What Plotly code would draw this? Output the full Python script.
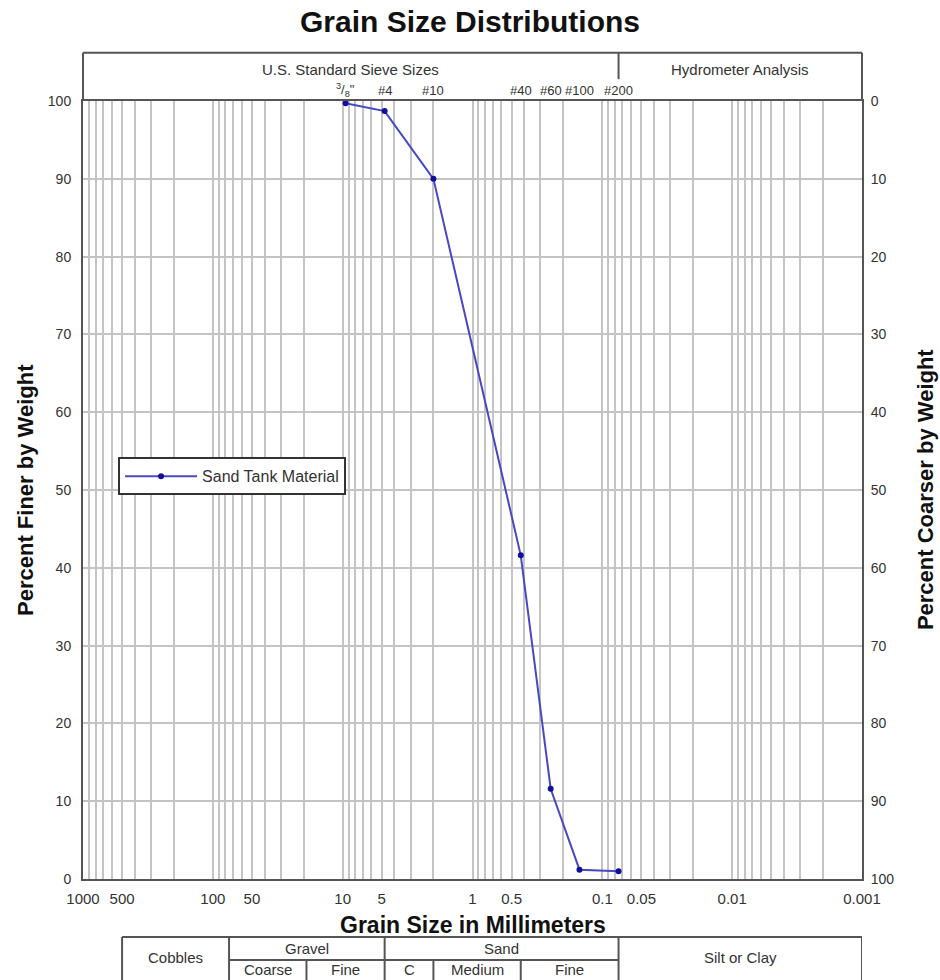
import numpy as np
import plotly.graph_objects as go

# Sieve analysis results for the sand tank material
sieve_labels = ['<sup>3</sup>/<sub>8</sub>"', "#4", "#10", "#40", "#60", "#100", "#200"]
sieve_mm = [9.5, 4.75, 2.0, 0.425, 0.25, 0.15, 0.075]
percent_finer = [99.7, 98.7, 90.0, 41.6, 11.6, 1.2, 1.0]
series_name = "Sand Tank Material"

# Axis ticks
x_tick_vals = [1000, 500, 100, 50, 10, 5, 1, 0.5, 0.1, 0.05, 0.01, 0.001]
x_tick_text = ["1000", "500", "100", "50", "10", "5", "1", "0.5", "0.1", "0.05", "0.01", "0.001"]
y_tick_vals = list(range(0, 101, 10))
y2_tick_vals = list(range(0, 101, 10))

# Soil classification boundaries (mm)
table_left_mm = 500
cobble_gravel_mm = 75
coarse_fine_gravel_mm = 19
gravel_sand_mm = 4.75
coarse_medium_sand_mm = 2.0
medium_fine_sand_mm = 0.425
sand_silt_mm = 0.075
table_right_mm = 0.001

FONT = "Liberation Sans"
TEXT = "#333333"
DARK = "#111111"
FRAME = "#555555"
GRID = "#c4c4c4"

x_range = [3, -3]  # log10, coarse on the left

# minor grid at 2..9 within every decade
minor_vals = [m * 10.0 ** e for e in range(-3, 3) for m in range(1, 10)]

fig = go.Figure()

fig.add_trace(go.Scatter(
    x=sieve_mm, y=percent_finer, name=series_name,
    mode="lines+markers",
    line=dict(color="#4848c4", width=2),
    marker=dict(color="#10109a", size=6, symbol="circle"),
))

# companion trace for the right (percent coarser) axis
fig.add_trace(go.Scatter(
    x=[sieve_mm[0]], y=[100 - percent_finer[0]], yaxis="y2",
    mode="markers", marker=dict(opacity=0), showlegend=False, hoverinfo="skip",
))


def lg(v):
    return float(np.log10(v))


def to_paper_x(mm):
    return (x_range[0] - lg(mm)) / (x_range[0] - x_range[1])


line_style = dict(color=FRAME, width=2)
shapes = []

# header box above the plot: sieve sizes / hydrometer analysis
head_top = 1.062
head_div_bottom = 1.028
shapes.append(dict(type="line", xref="paper", yref="paper", x0=0, x1=0, y0=1, y1=head_top, line=line_style))
shapes.append(dict(type="line", xref="paper", yref="paper", x0=1, x1=1, y0=1, y1=head_top, line=line_style))
shapes.append(dict(type="line", xref="paper", yref="paper", x0=0, x1=1, y0=head_top, y1=head_top, line=line_style))
shapes.append(dict(type="line", xref="x", yref="paper", x0=sand_silt_mm, x1=sand_silt_mm,
                   y0=head_div_bottom, y1=head_top, line=line_style))

# classification table below the axis title
tab_top = -0.0746
tab_mid = -0.104
tab_bot = -0.14
for y in (tab_top, tab_bot):
    shapes.append(dict(type="line", xref="x", yref="paper", x0=table_left_mm, x1=table_right_mm,
                       y0=y, y1=y, line=line_style))
shapes.append(dict(type="line", xref="x", yref="paper", x0=cobble_gravel_mm, x1=sand_silt_mm,
                   y0=tab_mid, y1=tab_mid, line=line_style))
for xv in (table_left_mm, cobble_gravel_mm, gravel_sand_mm, sand_silt_mm, table_right_mm):
    shapes.append(dict(type="line", xref="x", yref="paper", x0=xv, x1=xv, y0=tab_bot, y1=tab_top,
                       line=line_style))
for xv in (coarse_fine_gravel_mm, coarse_medium_sand_mm, medium_fine_sand_mm):
    shapes.append(dict(type="line", xref="x", yref="paper", x0=xv, x1=xv, y0=tab_bot, y1=tab_mid,
                       line=line_style))

annotations = []


def note(text, x, y, size, xref="paper", color=TEXT, angle=0):
    annotations.append(dict(text=text, xref=xref, yref="paper", x=x, y=y,
                            xanchor="center", yanchor="middle", textangle=angle,
                            showarrow=False, font=dict(family=FONT, size=size, color=color)))


div_p = to_paper_x(sand_silt_mm)
note("U.S. Standard Sieve Sizes", div_p / 2, 1.04, 15)
note("Hydrometer Analysis", (div_p + 1) / 2, 1.04, 15)
for lab, mm in zip(sieve_labels, sieve_mm):
    note(lab, lg(mm), 1.0135, 13, xref="x")


def mid(a, b):
    return (lg(a) + lg(b)) / 2


row_top = -0.0887
row_bot = -0.1165
row_all = -0.101
table_cells = [
    ("Cobbles", table_left_mm, cobble_gravel_mm, row_all),
    ("Gravel", cobble_gravel_mm, gravel_sand_mm, row_top),
    ("Sand", gravel_sand_mm, sand_silt_mm, row_top),
    ("Silt or Clay", sand_silt_mm, table_right_mm, row_all),
    ("Coarse", cobble_gravel_mm, coarse_fine_gravel_mm, row_bot),
    ("Fine", coarse_fine_gravel_mm, gravel_sand_mm, row_bot),
    ("C", gravel_sand_mm, coarse_medium_sand_mm, row_bot),
    ("Medium", coarse_medium_sand_mm, medium_fine_sand_mm, row_bot),
    ("Fine", medium_fine_sand_mm, sand_silt_mm, row_bot),
]
for text, a, b, y in table_cells:
    note(text, mid(a, b), y, 15, xref="x")

note("<b>Grain Size in Millimeters</b>", 0.5, -0.0595, 23, color=DARK)
note("<b>Percent Finer by Weight</b>", -0.0745, 0.5, 22, color=DARK, angle=-90)
note("<b>Percent Coarser by Weight</b>", 1.081, 0.5, 22, color=DARK, angle=-90)

fig.update_layout(
    width=940, height=980,
    margin=dict(l=83, r=78, t=101, b=101),
    paper_bgcolor="white", plot_bgcolor="white",
    title=dict(text="<b>Grain Size Distributions</b>", x=0.5, xanchor="center",
               y=1 - 21 / 980, yanchor="middle", yref="container",
               font=dict(family=FONT, size=30, color=DARK)),
    xaxis=dict(
        type="log", range=x_range,
        tickvals=x_tick_vals, ticktext=x_tick_text,
        tickfont=dict(family=FONT, size=15, color=TEXT),
        showgrid=True, gridcolor=GRID, gridwidth=1.5,
        minor=dict(tickvals=minor_vals, showgrid=True, gridcolor=GRID, gridwidth=1.5, ticks=""),
        showline=True, linecolor=FRAME, linewidth=2, mirror=True,
        ticks="", zeroline=False, ticklabelstandoff=5,
    ),
    yaxis=dict(
        range=[0, 100], tickvals=y_tick_vals,
        tickfont=dict(family=FONT, size=14, color=TEXT),
        showgrid=True, gridcolor=GRID, gridwidth=1.5,
        showline=True, linecolor=FRAME, linewidth=2,
        ticks="", zeroline=False, ticklabelstandoff=7,
    ),
    yaxis2=dict(
        overlaying="y", side="right", range=[100, 0], tickvals=y2_tick_vals,
        tickfont=dict(family=FONT, size=14, color=TEXT),
        showgrid=False, showline=True, linecolor=FRAME, linewidth=2,
        ticks="", zeroline=False, ticklabelstandoff=4,
    ),
    legend=dict(
        x=0.045, y=0.542, xanchor="left", yanchor="top",
        bgcolor="white", bordercolor="#333333", borderwidth=2,
        font=dict(family=FONT, size=16, color=TEXT), itemwidth=72,
    ),
    shapes=shapes,
    annotations=annotations,
    showlegend=True,
)

fig.write_html("out.html")
